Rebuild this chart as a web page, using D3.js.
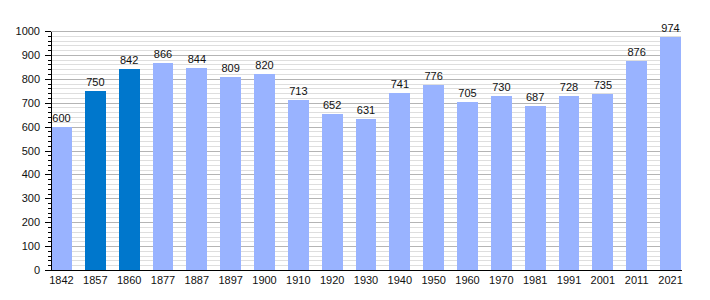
<!DOCTYPE html>
<html>
<head>
<meta charset="utf-8">
<script src="https://cdn.jsdelivr.net/npm/d3@7"></script>
<style>
  body { margin: 0; background: #fff; }
  svg { display: block; font-family: "Liberation Sans", Arial, sans-serif; }
</style>
</head>
<body>
<svg id="grafico" width="710" height="300"></svg>
<script>
const annees = ["1842", "1857", "1860", "1877", "1887", "1897", "1900", "1910", "1920", "1930",
  "1940", "1950", "1960", "1970", "1981", "1991", "2001", "2011", "2021"];
const habitants = [600, 750, 842, 866, 844, 809, 820, 713, 652, 631, 741, 776, 705, 730, 687, 728, 735, 876, 974];
// recensements mis en évidence (barres foncées)
const enEvidence = ["1857", "1860"];
const ticksY = [0, 100, 200, 300, 400, 500, 600, 700, 800, 900, 1000];

const donnees = annees.map((a, i) => ({ annee: a, valeur: habitants[i] }));

const margin = { top: 31, right: 29, bottom: 30, left: 51 };
const W = 710;
const H = 300;
const plotW = W - margin.left - margin.right;
const plotH = H - margin.top - margin.bottom;

const x = d3.scaleBand()
  .domain(annees)
  .range([0, plotW])
  .paddingInner(0.38)
  .paddingOuter(0);

const y = d3.scaleLinear()
  .domain([0, 1000])
  .range([plotH, 0]);

const svg = d3.select("#grafico");
const g = svg.append("g").attr("transform", `translate(${margin.left},${margin.top})`);

// grille fine tous les 20
g.append("g")
  .call(d3.axisLeft(y).tickValues(d3.range(0, 1001, 20)).tickSize(-plotW).tickFormat(""))
  .call((sel) => sel.select(".domain").remove())
  .call((sel) => sel.selectAll("line").attr("stroke", "#dedede").attr("shape-rendering", "crispEdges"));

// grille principale tous les 100
g.append("g")
  .call(d3.axisLeft(y).tickValues(ticksY).tickSize(-plotW).tickFormat(""))
  .call((sel) => sel.select(".domain").remove())
  .call((sel) => sel.selectAll("line").attr("stroke", "#b4b4b4").attr("shape-rendering", "crispEdges"));

g.selectAll("rect.barre")
  .data(donnees)
  .join("rect")
  .attr("class", "barre")
  .attr("x", (d) => x(d.annee))
  .attr("width", x.bandwidth())
  .attr("y", (d) => y(d.valeur))
  .attr("height", (d) => plotH - y(d.valeur))
  .attr("fill", (d) => enEvidence.includes(d.annee) ? "#0077cc" : "#99b3ff")
  .attr("shape-rendering", "crispEdges");

g.selectAll("text.valeur")
  .data(donnees)
  .join("text")
  .attr("class", "valeur")
  .attr("x", (d) => x(d.annee) + x.bandwidth() / 2)
  .attr("y", (d) => y(d.valeur) - 5)
  .attr("text-anchor", "middle")
  .attr("fill", "#111")
  .attr("font-size", "11px")
  .text((d) => d.valeur);

// petites graduations
g.append("g")
  .call(d3.axisLeft(y).tickValues(d3.range(0, 1001, 20)).tickSize(3).tickFormat(""))
  .call((sel) => sel.select(".domain").remove())
  .call((sel) => sel.selectAll("line").attr("stroke", "#000").attr("shape-rendering", "crispEdges"));

// axe vertical
g.append("g")
  .call(d3.axisLeft(y).tickValues(ticksY).tickSize(6).tickPadding(5).tickSizeOuter(0).tickFormat(d3.format("d")))
  .call((sel) => sel.selectAll("text").attr("fill", "#111").attr("font-size", "11px")
    .attr("font-family", "\"Liberation Sans\", Arial, sans-serif"))
  .call((sel) => sel.selectAll("line,.domain").attr("stroke", "#000").attr("shape-rendering", "crispEdges"));

// axe horizontal
g.append("g")
  .attr("transform", `translate(0,${plotH})`)
  .call(d3.axisBottom(x).tickSize(0).tickPadding(6).tickSizeOuter(0))
  .call((sel) => sel.selectAll("text").attr("fill", "#111").attr("font-size", "11px")
    .attr("font-family", "\"Liberation Sans\", Arial, sans-serif"))
  .call((sel) => sel.select(".domain").attr("stroke", "#000").attr("shape-rendering", "crispEdges"));
</script>
</body>
</html>
